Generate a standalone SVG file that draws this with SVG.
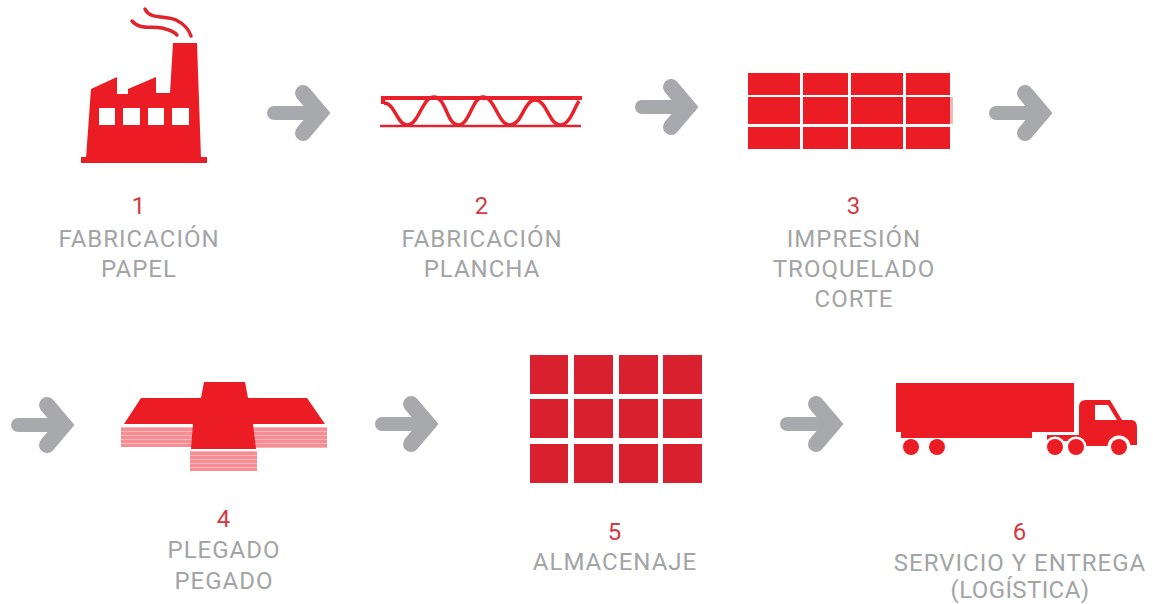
<svg xmlns="http://www.w3.org/2000/svg" width="1153" height="604" viewBox="0 0 1153 604">
<style>
.r{fill:#ec1c24}
.d{fill:#d9202e}
.t{font-family:"Roboto","Liberation Sans",sans-serif;font-size:24px;font-weight:400;fill:#a2a4a6;text-anchor:middle;letter-spacing:1px}
.n{fill:#d33a44}
.a{fill:none;stroke:#a8a9ad;stroke-linecap:round;stroke-linejoin:miter}
.w{fill:#fff}
.s{fill:none;stroke:#e0242c;stroke-width:3.500;stroke-linecap:round}
</style>
<defs>
<pattern id="st" width="4" height="4" patternUnits="userSpaceOnUse"><rect width="4" height="4" fill="#f58e94"/><rect y="3" width="4" height="1" fill="#fab4b8"/></pattern>
<g id="arw"><path class="a" stroke-width="14" d="M-25 0H19"/><path class="a" stroke-width="16" d="M4-20L21 0L4 20"/></g>
</defs>
<g id="connectors">
<use href="#arw" x="299" y="113"/>
<use href="#arw" x="667" y="107"/>
<use href="#arw" x="1021" y="113"/>
<use href="#arw" x="43" y="425"/>
<use href="#arw" x="407" y="424"/>
<use href="#arw" x="812" y="424"/>
</g>
<g id="node1">
<rect class="r" x="81" y="157" width="126" height="6"/>
<path class="r" fill-rule="evenodd" d="M86 158L91 89L117 77V94H128V89L156 77V93H170L173 43H197L201 158ZM99 108V125H115V108ZM123 108V125H140V108ZM148 108V125H164V108ZM172 108V125H189V108Z"/>
<path class="s" d="M145 9C150 20 165 15 176 20C186 25 189 30 191 36"/>
<path class="s" d="M132 21C140 30 150 26 162 28C170 30 175 32 177 35"/>
<text class="t n" x="139" y="214">1</text>
<text class="t" x="139" y="247">FABRICACIÓN</text>
<text class="t" x="139" y="277">PAPEL</text>
</g>
<g id="node2">
<path fill="none" stroke="#e8212a" stroke-width="3.500" d="M384 103C395 103 397 125 407 125C419 125 422 97 434 97C446 97 447 125 458 125C470 125 472 97 483 97C495 97 498 125 510 125C522 125 524 100 535 100C547 100 549 125 560 125C570 125 574 108 579 101"/>
<path fill="none" stroke="#e8212a" stroke-width="4" d="M383 104V98H582"/>
<path fill="none" stroke="#d92630" stroke-width="2.500" d="M380 126H581"/>
<text class="t n" x="482" y="214">2</text>
<text class="t" x="482" y="247">FABRICACIÓN</text>
<text class="t" x="482" y="277">PLANCHA</text>
</g>
<g id="node3">
<rect class="r" x="748" y="73" width="52" height="22"/><rect class="r" x="803" y="73" width="45" height="22"/><rect class="r" x="851" y="73" width="52" height="22"/><rect class="r" x="906" y="73" width="44" height="22"/>
<rect class="r" x="748" y="97" width="52" height="27"/><rect class="r" x="803" y="97" width="45" height="27"/><rect class="r" x="851" y="97" width="52" height="27"/><rect class="r" x="906" y="97" width="44" height="27"/>
<rect x="950" y="97" width="3" height="27" fill="#f8b9bc"/>
<rect class="r" x="748" y="127" width="52" height="22"/><rect class="r" x="803" y="127" width="45" height="22"/><rect class="r" x="851" y="127" width="52" height="22"/><rect class="r" x="906" y="127" width="44" height="22"/>
<text class="t n" x="854" y="214">3</text>
<text class="t" x="854" y="247">IMPRESIÓN</text>
<text class="t" x="854" y="277">TROQUELADO</text>
<text class="t" x="854" y="307">CORTE</text>
</g>
<g id="node4">
<rect x="121" y="427" width="72" height="20" fill="url(#st)"/>
<rect x="253" y="427" width="74" height="21" fill="url(#st)"/>
<rect x="190" y="451" width="67" height="20" fill="url(#st)"/>
<path class="r" d="M204 382H245L248 398H307L325 424H253L256 449H191L193 424H124L141 398H201Z"/>
<text class="t n" x="224" y="527">4</text>
<text class="t" x="224" y="558">PLEGADO</text>
<text class="t" x="224" y="589">PEGADO</text>
</g>
<g id="node5">
<rect class="d" x="530" y="355" width="38" height="39"/><rect class="d" x="574" y="355" width="39" height="39"/><rect class="d" x="619" y="355" width="39" height="39"/><rect class="d" x="663" y="355" width="39" height="39"/>
<rect class="d" x="530" y="399" width="38" height="39"/><rect class="d" x="574" y="399" width="39" height="39"/><rect class="d" x="619" y="399" width="39" height="39"/><rect class="d" x="663" y="399" width="39" height="39"/>
<rect class="d" x="530" y="444" width="38" height="39"/><rect class="d" x="574" y="444" width="39" height="39"/><rect class="d" x="619" y="444" width="39" height="39"/><rect class="d" x="663" y="444" width="39" height="39"/>
<text class="t n" x="615" y="540">5</text>
<text class="t" x="615" y="570">ALMACENAJE</text>
</g>
<g id="node6">
<path class="r" d="M896 383H1074V432H1032V438H901V432H896Z"/>
<path class="r" fill-rule="evenodd" d="M1047 435H1079V407Q1079 400 1086 400H1110L1122 420H1132Q1137 421 1137 427V445H1130V447H1108V446H1084V441H1047ZM1095 405V420H1117L1108 405Z"/>
<circle class="w" cx="1055" cy="447" r="10.500"/><circle class="w" cx="1076" cy="447" r="10.500"/><circle class="w" cx="1119" cy="447" r="11.500"/>
<circle class="r" cx="911" cy="447" r="8"/><circle class="r" cx="937" cy="447" r="8"/><circle class="r" cx="1055" cy="447" r="8"/><circle class="r" cx="1076" cy="447" r="8"/><circle class="r" cx="1119" cy="447" r="8"/>
<text class="t n" x="1020" y="540">6</text>
<text class="t" x="1020" y="571">SERVICIO Y ENTREGA</text>
<text class="t" x="1020" y="598" style="letter-spacing:.4px">(LOGÍSTICA)</text>
</g>
</svg>
